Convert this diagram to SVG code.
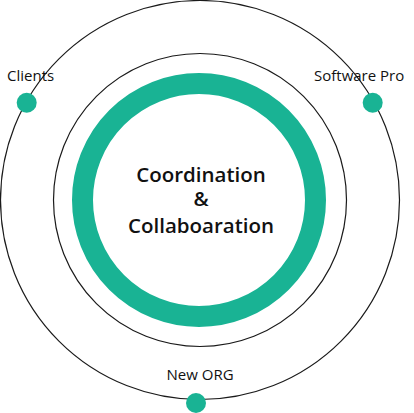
<svg xmlns="http://www.w3.org/2000/svg" width="414" height="413" viewBox="0 0 414 413">
<style>
.ring{fill:none;stroke:#1a1a1a;stroke-width:1.2}
.dot{fill:#19b394}
.lbl{font-family:"Open Sans","Noto Sans",sans-serif;font-size:15px;fill:#111;font-weight:500}
.ctr{font-family:"Open Sans","Noto Sans",sans-serif;font-size:20.5px;fill:#111;font-weight:600;text-anchor:middle}
</style>
<rect width="414" height="413" fill="#fff"/>
<g id="connectors">
<circle class="ring" cx="200" cy="200" r="199.5"/>
<circle class="ring" cx="200" cy="200" r="146.5"/>
</g>
<g id="center">
<circle cx="199" cy="200" r="116.5" fill="none" stroke="#19b394" stroke-width="21"/>
<text class="ctr" x="201" y="182">Coordination</text>
<text class="ctr" x="201" y="206">&amp;</text>
<text class="ctr" x="201" y="233">Collaboaration</text>
</g>
<g id="clients">
<circle class="dot" cx="26.7" cy="102.7" r="10"/>
<text class="lbl" x="7" y="81">Clients</text>
</g>
<g id="software">
<circle class="dot" cx="372.7" cy="102.7" r="10"/>
<text class="lbl" x="314" y="81">Software Pro</text>
</g>
<g id="neworg">
<circle class="dot" cx="196" cy="403" r="10"/>
<text class="lbl" x="166.5" y="380">New ORG</text>
</g>
</svg>
